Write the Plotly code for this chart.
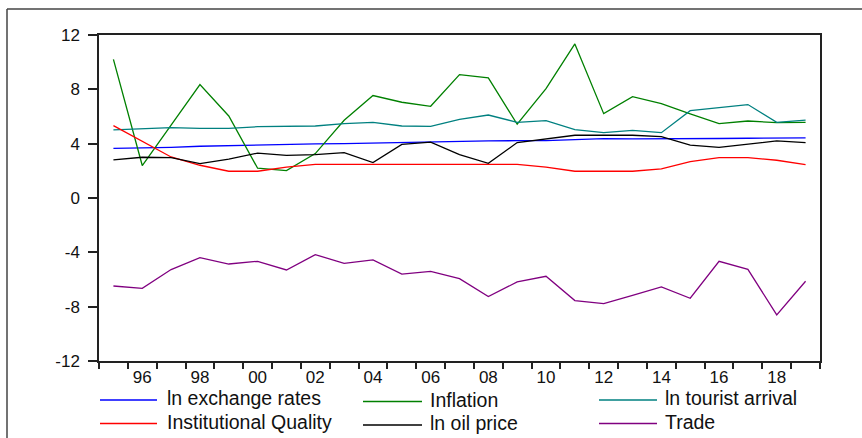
import plotly.graph_objects as go

# Annual observations, 1995-2019
years = list(range(1995, 2020))

ln_exchange_rates = [3.66, 3.68, 3.73, 3.81, 3.86, 3.90, 3.95, 3.98, 4.00, 4.05,
                     4.10, 4.15, 4.20, 4.20, 4.22, 4.22, 4.30, 4.37, 4.36, 4.35,
                     4.37, 4.38, 4.40, 4.42, 4.42]
inflation = [10.21, 2.39, 5.37, 8.35, 6.04, 2.19, 2.02, 3.27, 5.72, 7.54,
             7.05, 6.75, 9.08, 8.84, 5.43, 8.05, 11.34, 6.21, 7.46, 6.95,
             6.20, 5.47, 5.67, 5.55, 5.57]
ln_tourist_arrival = [5.01, 5.08, 5.18, 5.13, 5.13, 5.25, 5.30, 5.30, 5.47, 5.57,
                      5.30, 5.28, 5.79, 6.11, 5.57, 5.70, 5.03, 4.81, 4.98, 4.81,
                      6.43, 6.68, 6.88, 5.57, 5.74]
institutional_quality = [5.33, 4.20, 3.02, 2.41, 1.97, 1.97, 2.28, 2.48, 2.48, 2.48,
                         2.48, 2.48, 2.48, 2.48, 2.48, 2.28, 1.97, 1.97, 1.97, 2.14,
                         2.68, 2.97, 2.97, 2.78, 2.46]
ln_oil_price = [2.80, 3.00, 2.97, 2.53, 2.87, 3.31, 3.14, 3.19, 3.34, 2.61,
                3.95, 4.12, 3.20, 2.55, 4.08, 4.37, 4.62, 4.62, 4.62, 4.52,
                3.90, 3.73, 3.95, 4.20, 4.08]
trade = [-6.48, -6.65, -5.27, -4.39, -4.86, -4.66, -5.30, -4.17, -4.81, -4.56,
         -5.60, -5.40, -5.94, -7.26, -6.18, -5.76, -7.55, -7.78, -7.16, -6.55,
         -7.38, -4.66, -5.25, -8.61, -6.13]

series_names = ["ln exchange rates", "Inflation", "ln tourist arrival",
                "Institutional Quality", "ln oil price", "Trade"]
series_values = [ln_exchange_rates, inflation, ln_tourist_arrival,
                 institutional_quality, ln_oil_price, trade]
series_colors = ["#0000ff", "#008000", "#008080", "#ff0000", "#000000", "#800080"]

y_ticks = [12, 8, 4, 0, -4, -8, -12]
y_labels = ["12", "8", "4", "0", "-4", "-8", "-12"]
x_label_years = list(range(1996, 2019, 2))
x_labels = [f"{y % 100:02d}" for y in x_label_years]

W, H = 862, 438
L, R, T, B = 99, 42, 35, 77
PW, PH = W - L - R, H - T - B
FONT = "Liberation Sans, Arial, sans-serif"


def px_x(x):
    return (x - L) / PW


def px_y(y):
    return (H - B - y) / PH


fig = go.Figure()
for name, vals, col in zip(series_names, series_values, series_colors):
    fig.add_trace(go.Scatter(x=years, y=vals, mode="lines", name=name,
                             line=dict(color=col, width=1.3), showlegend=False))

shapes = []
annotations = []

# outer frame (left and top edges)
shapes.append(dict(type="line", xref="paper", yref="paper",
                   x0=px_x(7), x1=px_x(7), y0=px_y(9), y1=px_y(H),
                   line=dict(color="#444444", width=1.5)))
shapes.append(dict(type="line", xref="paper", yref="paper",
                   x0=px_x(7), x1=px_x(W), y0=px_y(9), y1=px_y(9),
                   line=dict(color="#444444", width=1.5)))

# legend drawn as two rows of three entries
legend_cols = [(100, 157, 166), (363, 422, 429), (599, 657, 664)]
legend_rows = [[400, 401.5, 400], [423.5, 425, 423.5]]
for i, (name, col) in enumerate(zip(series_names, series_colors)):
    r, c = divmod(i, 3)
    x0, x1, xt = legend_cols[c]
    yl = legend_rows[r][c]
    shapes.append(dict(type="line", xref="paper", yref="paper",
                       x0=px_x(x0), x1=px_x(x1), y0=px_y(yl), y1=px_y(yl),
                       line=dict(color=col, width=1.5)))
    annotations.append(dict(xref="paper", yref="paper", x=px_x(xt), y=px_y(yl - 2),
                            text=name, showarrow=False, xanchor="left",
                            yanchor="middle", borderpad=0,
                            font=dict(family=FONT, size=19.5, color="#111111")))

fig.update_layout(
    width=W, height=H,
    margin=dict(l=L, r=R, t=T, b=B, pad=0),
    paper_bgcolor="white", plot_bgcolor="white",
    shapes=shapes, annotations=annotations,
    font=dict(family=FONT, size=17, color="#111111"),
)

fig.update_xaxes(
    range=[1994.5, 2019.5],
    tickmode="array", tickvals=x_label_years, ticktext=x_labels,
    ticks="outside", ticklen=0, tickcolor="rgba(0,0,0,0)",
    showgrid=False, zeroline=False,
    showline=True, linecolor="#222222", linewidth=1.5, mirror=True,
    minor=dict(tickmode="array", tickvals=[y + 0.5 for y in range(1994, 2020)],
               ticks="outside", ticklen=6, tickcolor="#222222", tickwidth=1.5,
               showgrid=False),
    tickfont=dict(family=FONT, size=17, color="#111111"),
)

fig.update_yaxes(
    range=[-12, 12],
    tickmode="array", tickvals=y_ticks, ticktext=y_labels,
    ticks="outside", ticklen=9, tickcolor="#222222", tickwidth=1.5,
    ticklabelstandoff=5,
    showgrid=False, zeroline=False,
    showline=True, linecolor="#222222", linewidth=1.5, mirror=True,
    tickfont=dict(family=FONT, size=17, color="#111111"),
)

fig.write_html("out.html")
